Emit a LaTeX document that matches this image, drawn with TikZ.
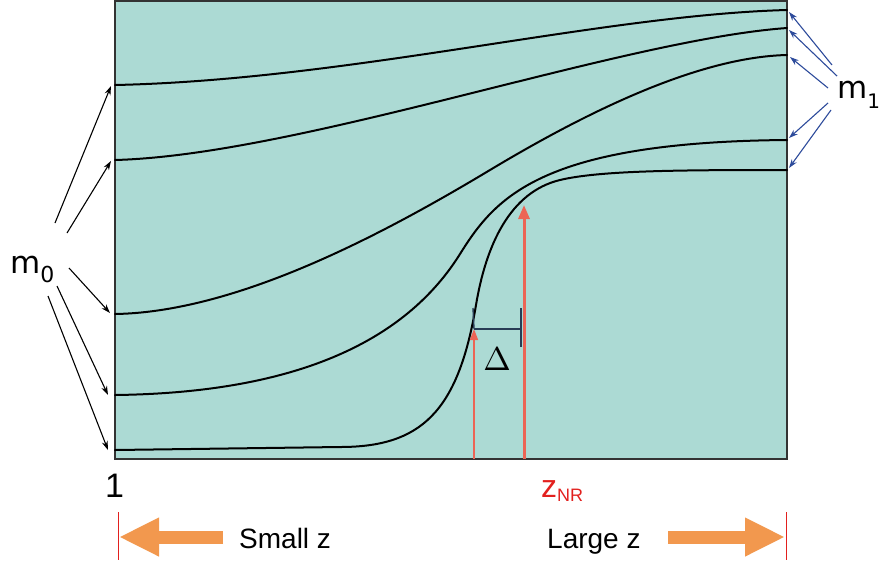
\documentclass[tikz,border=0pt]{standalone}
\usepackage{fontspec}
\setmainfont{Liberation Sans}
\newfontfamily\djv{DejaVu Sans}
\usetikzlibrary{arrows.meta}
\definecolor{bgteal}{RGB}{172,218,212}
\definecolor{arrred}{RGB}{236,100,85}
\definecolor{lblred}{RGB}{226,32,30}
\definecolor{orng}{RGB}{242,152,78}
\definecolor{arrblue}{RGB}{45,75,155}
\definecolor{bardark}{RGB}{40,60,85}
\tikzset{
  curve/.style={line width=2pt, black, line cap=round},
  mzero/.style={black, line width=1.1pt, -{Stealth[length=9pt,width=6pt]}},
  mone/.style={arrblue, line width=1.1pt, -{Stealth[length=9pt,width=6pt]}},
  lbl/.style={inner sep=0pt, anchor=base west},
  bigarrow/.style={orng, line width=13pt, -{Triangle[length=40pt,width=36pt]}},
  edgeline/.style={lblred, line width=0.8pt},
  barline/.style={bardark, line width=1.4pt},
}
\begin{document}
\begin{tikzpicture}[x=1pt,y=-1pt]
\path[use as bounding box] (0,0) rectangle (882,566);
% box
\draw[fill=bgteal, draw=black!80, line width=1.2pt] (115,1) rectangle (787,459);
% curves
\draw[curve] (115,85) .. controls (350,80) and (600,15) .. (787,10);
\draw[curve] (115,160) .. controls (300,155) and (620,40) .. (787,28);
\draw[curve] (115,314) .. controls (240,312) and (390,230) .. (490,170)
                       .. controls (590,110) and (700,57) .. (787,55);
\draw[curve] (115,395) .. controls (280,393) and (400,350) .. (460,254)
                       .. controls (495,198) and (540,142) .. (787,140);
\draw[curve] (115,450) -- (340,447)
                       .. controls (420,447) and (458,413) .. (476,305)
                       .. controls (486,245) and (510,192) .. (560,180)
                       .. controls (600,170.4) and (680,170) .. (787,170);
% coordinates of curve ends
\coordinate (l1) at (111,86);
\coordinate (l2) at (111,161);
\coordinate (l3) at (110,313);
\coordinate (l4) at (108,395);
\coordinate (l5) at (108,450);
\coordinate (r1) at (789,12);
\coordinate (r2) at (789,30);
\coordinate (r3) at (790,57);
\coordinate (r4) at (789,138);
\coordinate (r5) at (789,168);
% labels
\node[lbl] (m0) at (10,273) {\djv\fontsize{31}{31}\selectfont m\raisebox{-9pt}{\fontsize{22}{22}\selectfont 0}};
\node[lbl] (m1) at (837,98) {\djv\fontsize{31}{31}\selectfont m\raisebox{-10pt}{\fontsize{20}{20}\selectfont 1}};
\coordinate (s1) at (55,223);
\coordinate (s2) at (67,233);
\coordinate (s3) at (69,268);
\coordinate (s4) at (57,286);
\coordinate (s5) at (48,296);
\draw[mzero] (s1) -- (l1);
\draw[mzero] (s2) -- (l2);
\draw[mzero] (s3) -- (l3);
\draw[mzero] (s4) -- (l4);
\draw[mzero] (s5) -- (l5);
\coordinate (t1) at (832,65);
\coordinate (t2) at (837,76);
\coordinate (t3) at (828,88);
\coordinate (t4) at (828,103);
\coordinate (t5) at (831,110);
\draw[mone] (t1) -- (r1);
\draw[mone] (t2) -- (r2);
\draw[mone] (t3) -- (r3);
\draw[mone] (t4) -- (r4);
\draw[mone] (t5) -- (r5);
% red arrows
\coordinate (a0) at (474,459);
\coordinate (a1) at (474,329);
\coordinate (b0) at (524,459);
\coordinate (b1) at (524,205);
\draw[arrred, line width=1.5pt, -{Triangle[length=11pt,width=8pt]}] (a0) -- (a1);
\draw[arrred, line width=3pt, -{Triangle[length=14pt,width=11pt]}] (b0) -- (b1);
% Delta bar
\coordinate (d0) at (474,329);
\coordinate (d1) at (521,329);
\coordinate (d0t) at (473,308);
\coordinate (d1t) at (521,308);
\coordinate (d1b) at (521,347);
\draw[barline] (d0) -- (d1);
\draw[barline] (d0t) -- (d0);
\draw[barline] (d1t) -- (d1b);
\node[inner sep=0pt, anchor=base] (delta) at (497,370) {\scalebox{3.3}{$\Delta$}};
% bottom labels
\node[lbl] (one) at (105,497) {\fontsize{34}{34}\selectfont 1};
\node[lbl, text=lblred] (znr) at (541,497) {\fontsize{32}{32}\selectfont z\raisebox{-4pt}{\fontsize{18}{18}\selectfont NR}};
\coordinate (e1t) at (118,512);
\coordinate (e1b) at (118,560);
\coordinate (e2t) at (786,512);
\coordinate (e2b) at (786,560);
\draw[edgeline] (e1t) -- (e1b);
\draw[edgeline] (e2t) -- (e2b);
\coordinate (la0) at (223,537);
\coordinate (la1) at (119,537);
\coordinate (ra0) at (668,537);
\coordinate (ra1) at (785,537);
\draw[bigarrow] (la0) -- (la1);
\draw[bigarrow] (ra0) -- (ra1);
\node[lbl] (small) at (239,548) {\fontsize{28}{28}\selectfont Small z};
\node[lbl] (large) at (547,548) {\fontsize{28}{28}\selectfont Large z};
\end{tikzpicture}
\end{document}
